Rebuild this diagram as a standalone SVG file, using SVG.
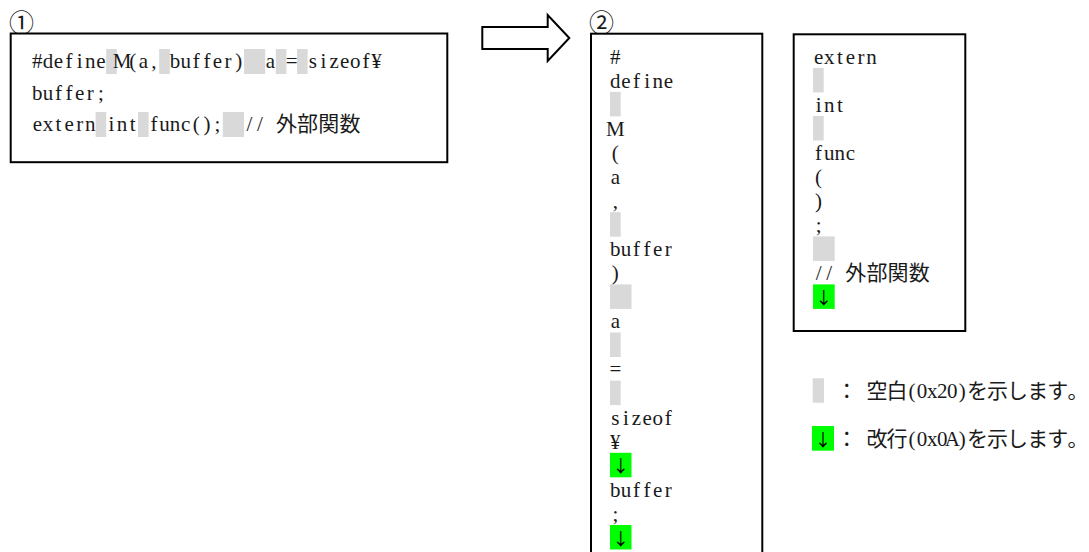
<svg xmlns="http://www.w3.org/2000/svg" width="1089" height="552" viewBox="0 0 1089 552">
<style>
.t{font-family:"Liberation Serif","Noto Sans CJK JP",serif;font-size:21px;fill:#1a1a1a;text-anchor:middle}
.lbl{font-family:"Noto Sans CJK JP",sans-serif;font-size:25px;fill:#1a1a1a}
.arr{font-family:"Noto Sans CJK JP",sans-serif;font-size:17px;fill:#000;text-anchor:middle}
.sp{fill:#d9d9d9}
.nl{fill:#00ff00}
.box{fill:#fff;stroke:#000;stroke-width:2}
</style>
<rect width="1089" height="552" fill="#fff"/>

<g id="box1">
  <text class="lbl" x="9" y="32">①</text>
  <rect class="box" x="10.7" y="33.5" width="436.6" height="128.7"/>
  <rect class="sp" x="106.2" y="49" width="10.6" height="25"/>
  <rect class="sp" x="159.2" y="49" width="10.6" height="25"/>
  <rect class="sp" x="244" y="49" width="21.2" height="25"/>
  <rect class="sp" x="275.8" y="49" width="10.6" height="25"/>
  <rect class="sp" x="297" y="49" width="10.6" height="25"/>
  <rect class="sp" x="95.6" y="112" width="10.6" height="25"/>
  <rect class="sp" x="138" y="112" width="10.6" height="25"/>
  <rect class="sp" x="222.8" y="112" width="21.2" height="25"/>
  <text class="t" xml:space="preserve" y="68" x="37.3 47.9 58.5 69.1 79.7 90.3 100.9 111.5 122.1 132.7 143.3 153.9 164.5 175.1 185.7 196.3 206.9 217.5 228.1 238.7 249.3 259.9 270.5 281.1 291.7 302.3 312.9 323.5 334.1 344.7 355.3 365.9 376.5">#define M(a, buffer)  a = sizeof¥</text>
  <text class="t" y="99.5" x="37.3 47.9 58.5 69.1 79.7 90.3 100.9">buffer;</text>
  <text class="t" xml:space="preserve" y="131" x="37.3 47.9 58.5 69.1 79.7 90.3 100.9 111.5 122.1 132.7 143.3 153.9 164.5 175.1 185.7 196.3 206.9 217.5 228.1 238.7 249.3 259.9 270.5 286.4 307.6 328.8 350">extern int func();  // 外部関数</text>
</g>

<g id="connectors">
  <polygon points="482.3,27 547.7,27 547.7,15 569.3,38 547.7,61 547.7,49 482.3,49" fill="#fff" stroke="#000" stroke-width="2" stroke-linejoin="miter"/>
</g>

<g id="box2">
  <text class="lbl" x="589" y="32">②</text>
  <rect class="box" x="591" y="33.7" width="171.3" height="540"/>
  <rect class="sp" x="610" y="91.9" width="10.7" height="24.5"/>
  <rect class="sp" x="610" y="212.2" width="10.7" height="24.5"/>
  <rect class="sp" x="610" y="284.4" width="21.5" height="24.5"/>
  <rect class="sp" x="610" y="332.5" width="10.7" height="24.5"/>
  <rect class="sp" x="610" y="380.6" width="10.7" height="24.5"/>
  <rect class="nl" x="610" y="452.8" width="21.5" height="24.5"/>
  <rect class="nl" x="610" y="525" width="21.5" height="24.5"/>
  <text class="t" x="615.3" y="63.6">#</text>
  <text class="t" x="615.3 625.9 636.5 647.1 657.7 668.3" y="87.7">define</text>
  <text class="t" x="615.3" y="135.8">M</text>
  <text class="t" x="615.3" y="159.8">(</text>
  <text class="t" x="615.3" y="183.9">a</text>
  <text class="t" x="615.3" y="208">,</text>
  <text class="t" x="615.3 625.9 636.5 647.1 657.7 668.3" y="256.1">buffer</text>
  <text class="t" x="615.3" y="280.1">)</text>
  <text class="t" x="615.3" y="328.3">a</text>
  <text class="t" x="615.3" y="376.4">=</text>
  <text class="t" x="615.3 625.9 636.5 647.1 657.7 668.3" y="424.5">sizeof</text>
  <text class="t" x="615.3" y="448.6">¥</text>
  <text class="arr" x="620.7" y="472.4">↓</text>
  <text class="t" x="615.3 625.9 636.5 647.1 657.7 668.3" y="496.7">buffer</text>
  <text class="t" x="615.3" y="520.7">;</text>
  <text class="arr" x="620.7" y="544.6">↓</text>
</g>

<g id="box3">
  <rect class="box" x="793.7" y="34.3" width="171.6" height="296.7"/>
  <rect class="sp" x="813" y="67.9" width="10.7" height="24.5"/>
  <rect class="sp" x="813" y="116" width="10.7" height="24.5"/>
  <rect class="sp" x="813" y="236.4" width="21.7" height="24.5"/>
  <rect class="nl" x="813" y="284.4" width="21.7" height="24.5"/>
  <text class="t" x="818.6 829.2 839.8 850.4 861 871.6" y="63.6">extern</text>
  <text class="t" x="818.6 829.2 839.8" y="111.7">int</text>
  <text class="t" x="818.6 829.2 839.8 850.4" y="159.8">func</text>
  <text class="t" x="818.6" y="183.9">(</text>
  <text class="t" x="818.6" y="208">)</text>
  <text class="t" x="818.6" y="232">;</text>
  <text class="t" xml:space="preserve" x="818.6 829.2 839.8 855.7 876.9 898.1 919.3" y="280.1">// 外部関数</text>
  <text class="arr" x="823.8" y="304">↓</text>
</g>

<g id="legend">
  <rect class="sp" x="812.7" y="378.3" width="11.3" height="24.4"/>
  <text class="t" xml:space="preserve" y="398" x="846.75 861.8 876.9 897 912.1 922.1 932.2 942.2 952.3 962.3 977.4 997.5 1017.6 1037.7 1057.8 1077.9">： 空白(0x20)を示します。</text>
  <rect class="nl" x="812" y="426" width="22" height="24.7"/>
  <text class="arr" x="823" y="445.6">↓</text>
  <text class="t" xml:space="preserve" y="446" x="846.75 861.8 876.9 897 912.1 922.1 932.2 942.2 952.3 962.3 977.4 997.5 1017.6 1037.7 1057.8 1077.9">： 改行(0x0A)を示します。</text>
</g>
</svg>
